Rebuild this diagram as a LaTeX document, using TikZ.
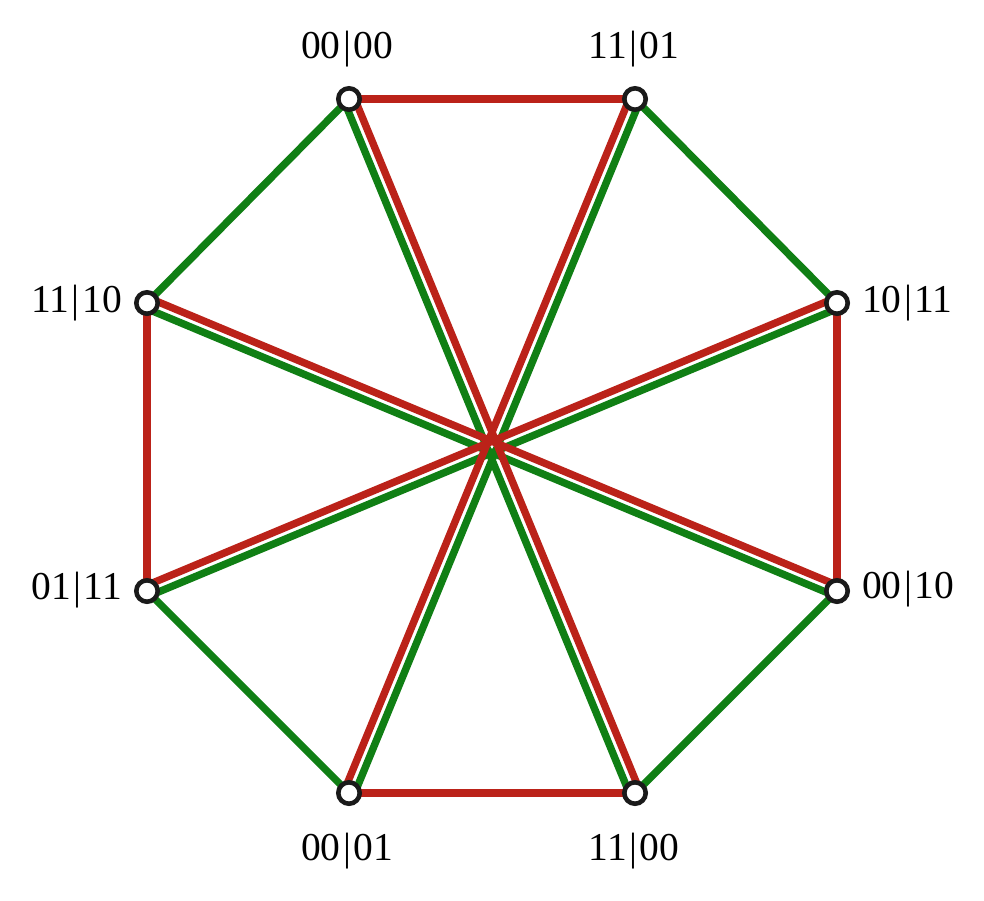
\documentclass[tikz,border=0pt]{standalone}
\usepackage{fontspec}
\setmainfont{Liberation Serif}
\usetikzlibrary{calc}
\definecolor{myred}{HTML}{BB2219}
\definecolor{mygreen}{HTML}{107F14}
\definecolor{ringc}{HTML}{1A1A1A}
\newcommand{\lbl}[2]{#1\kern2.5pt|\kern2.5pt#2}
\begin{document}
\begin{tikzpicture}[x=1pt,y=-1pt,
  vtx/.style={circle,draw=ringc,fill=white,line width=4.6pt,minimum size=21.4pt,inner sep=0pt},
  redl/.style={draw=myred,line width=7.4pt},
  grnl/.style={draw=mygreen,line width=7.4pt},
  lab/.style={inner sep=0pt,font=\fontsize{39.5}{42}\selectfont}]
\useasboundingbox (0,0) rectangle (984,900);
\coordinate (a) at (349,99);
\coordinate (b) at (635,99);
\coordinate (c) at (837,303);
\coordinate (d) at (837,591);
\coordinate (e) at (635,793);
\coordinate (f) at (349,793);
\coordinate (g) at (147,591);
\coordinate (h) at (147,303);
% outer edges
\draw[redl] (a) -- (b);
\draw[redl] (c) -- (d);
\draw[redl] (e) -- (f);
\draw[redl] (g) -- (h);
\draw[grnl] (b) -- (c);
\draw[grnl] (d) -- (e);
\draw[grnl] (f) -- (g);
\draw[grnl] (h) -- (a);
% diagonals
\draw[grnl] ($(a)!5.3pt!-90:(e)$) -- ($(e)!5.3pt!90:(a)$);
\draw[grnl] ($(b)!5.3pt!90:(f)$) -- ($(f)!5.3pt!-90:(b)$);
\draw[grnl] ($(h)!5.3pt!-90:(d)$) -- ($(d)!5.3pt!90:(h)$);
\draw[grnl] ($(c)!5.3pt!90:(g)$) -- ($(g)!5.3pt!-90:(c)$);
\draw[redl] ($(a)!5.3pt!90:(e)$) -- ($(e)!5.3pt!-90:(a)$);
\draw[redl] ($(b)!5.3pt!-90:(f)$) -- ($(f)!5.3pt!90:(b)$);
\draw[redl] ($(h)!5.3pt!90:(d)$) -- ($(d)!5.3pt!-90:(h)$);
\draw[redl] ($(c)!5.3pt!-90:(g)$) -- ($(g)!5.3pt!90:(c)$);
% vertices
\node[vtx] (va) at (a) {};
\node[vtx] (vb) at (b) {};
\node[vtx] (vc) at (c) {};
\node[vtx] (vd) at (d) {};
\node[vtx] (ve) at (e) {};
\node[vtx] (vf) at (f) {};
\node[vtx] (vg) at (g) {};
\node[vtx] (vh) at (h) {};
% labels
\node[lab,anchor=base] (la) at (347,58) {\lbl{00}{00}};
\node[lab,anchor=base] (lb) at (634,58) {\lbl{11}{01}};
\node[lab,anchor=base west] (lc) at (862,312) {\lbl{10}{11}};
\node[lab,anchor=base west] (ld) at (862,598) {\lbl{00}{10}};
\node[lab,anchor=base] (le) at (634,860) {\lbl{11}{00}};
\node[lab,anchor=base] (lf) at (347,860) {\lbl{00}{01}};
\node[lab,anchor=base east] (lg) at (122,599) {\lbl{01}{11}};
\node[lab,anchor=base east] (lh) at (122,312) {\lbl{11}{10}};
\end{tikzpicture}
\end{document}
